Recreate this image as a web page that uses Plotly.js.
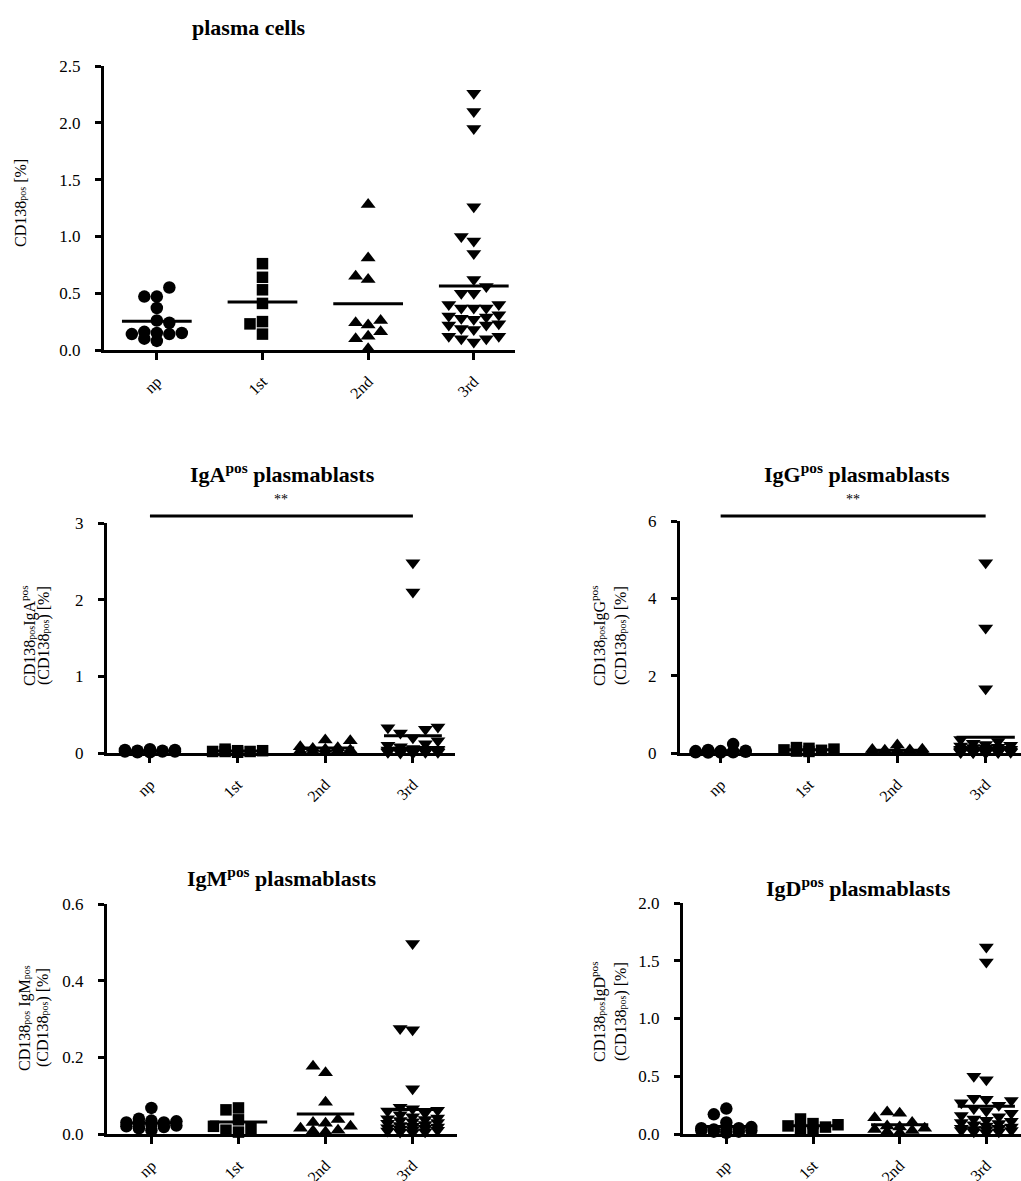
<!DOCTYPE html>
<html><head><meta charset="utf-8">
<script src="https://cdn.plot.ly/plotly-3.0.1.min.js"></script>
<style>body{margin:0;background:#fff}#chart{width:1021px;height:1181px}</style>
</head><body><div id="chart"></div>
<script>
// ---------- DATA ----------
const groups = ['np', '1st', '2nd', '3rd'];

const SUBPOS = '<span style="font-size:10px">pos</span>';
const panelTitles = ['plasma cells', 'IgA<sup>pos</sup> plasmablasts', 'IgG<sup>pos</sup> plasmablasts',
                     'IgM<sup>pos</sup> plasmablasts', 'IgD<sup>pos</sup> plasmablasts'];
const yTitles = [
  ['CD138' + SUBPOS + ' [%]'],
  ['CD138' + SUBPOS + 'IgA<sup>pos</sup>', '(CD138' + SUBPOS + ') [%]'],
  ['CD138' + SUBPOS + 'IgG<sup>pos</sup>', '(CD138' + SUBPOS + ') [%]'],
  ['CD138' + SUBPOS + ' IgM' + SUBPOS, '(CD138' + SUBPOS + ') [%]'],
  ['CD138' + SUBPOS + 'IgD<sup>pos</sup>', '(CD138' + SUBPOS + ') [%]']
];
// significance comparisons: [group a, group b, label] (null = none)
const sigPairs = [null, [0, 3, '**'], [0, 3, '**'], null, null];

// plasma cells
const pc_np  = [0.55, 0.47, 0.47, 0.37, 0.26, 0.24, 0.15, 0.14, 0.16, 0.15, 0.14, 0.08, 0.10];
const pc_1st = [0.76, 0.64, 0.53, 0.41, 0.25, 0.23, 0.14];
const pc_2nd = [1.28, 0.81, 0.65, 0.62, 0.26, 0.24, 0.22, 0.16, 0.12, 0.10, 0.01];
const pc_3rd = [2.26, 2.10, 1.95, 1.26, 1.00, 0.96, 0.85, 0.62, 0.56, 0.50, 0.50, 0.40, 0.37, 0.37, 0.37, 0.40,
                0.30, 0.31, 0.28, 0.27, 0.29, 0.19, 0.22, 0.22, 0.23, 0.18, 0.12, 0.12, 0.07, 0.10, 0.10];
// IgA
const iga_np  = [0.04, 0.04, 0.03, 0.03, 0.02, 0.02, 0.05, 0.02, 0.01, 0.03, 0.02, 0.01, 0.02];
const iga_1st = [0.05, 0.03, 0.02, 0.03, 0.02, 0.01, 0.02];
const iga_2nd = [0.17, 0.16, 0.08, 0.07, 0.06, 0.05, 0.04, 0.03, 0.03, 0.02, 0.01];
const iga_3rd = [2.48, 2.10, 0.34, 0.33, 0.31, 0.26, 0.20, 0.16, 0.12, 0.10, 0.08, 0.06, 0.05, 0.05, 0.04, 0.04,
                 0.04, 0.03, 0.03, 0.03, 0.03, 0.02, 0.02, 0.02, 0.02, 0.01, 0.01, 0.01, 0.01, 0.00, 0.00];
// IgG
const igg_np  = [0.23, 0.08, 0.06, 0.05, 0.05, 0.04, 0.04, 0.03, 0.03, 0.02, 0.02, 0.01, 0.01];
const igg_1st = [0.14, 0.12, 0.10, 0.08, 0.07, 0.05, 0.04];
const igg_2nd = [0.21, 0.10, 0.09, 0.08, 0.07, 0.06, 0.05, 0.04, 0.03, 0.02, 0.01];
const igg_3rd = [4.92, 3.23, 1.66, 0.35, 0.30, 0.25, 0.22, 0.20, 0.18, 0.15, 0.14, 0.12, 0.10, 0.10, 0.09,
                 0.08, 0.07, 0.06, 0.05, 0.05, 0.04, 0.04, 0.03, 0.03, 0.02, 0.02, 0.02, 0.01, 0.01, 0.01, 0.00];
// IgM
const igm_np  = [0.068, 0.040, 0.035, 0.033, 0.030, 0.030, 0.028, 0.025, 0.022, 0.020, 0.018, 0.015, 0.010];
const igm_1st = [0.068, 0.063, 0.037, 0.020, 0.015, 0.010, 0.005];
const igm_2nd = [0.177, 0.160, 0.083, 0.038, 0.030, 0.028, 0.020, 0.015, 0.010, 0.008, 0.005];
const igm_3rd = [0.497, 0.275, 0.272, 0.118, 0.070, 0.066, 0.062, 0.060, 0.055, 0.050, 0.045, 0.042, 0.040,
                 0.038, 0.035, 0.032, 0.030, 0.028, 0.025, 0.022, 0.020, 0.018, 0.016, 0.015, 0.013, 0.012,
                 0.010, 0.008, 0.006, 0.005, 0.004];
// IgD
const igd_np  = [0.22, 0.17, 0.10, 0.06, 0.05, 0.05, 0.04, 0.04, 0.03, 0.03, 0.02, 0.02, 0.01];
const igd_1st = [0.13, 0.09, 0.08, 0.07, 0.06, 0.04, 0.03];
const igd_2nd = [0.19, 0.18, 0.14, 0.10, 0.07, 0.06, 0.05, 0.04, 0.03, 0.02, 0.01];
const igd_3rd = [1.62, 1.49, 0.50, 0.47, 0.31, 0.30, 0.29, 0.27, 0.25, 0.22, 0.20, 0.18, 0.16, 0.15, 0.13,
                 0.12, 0.11, 0.10, 0.09, 0.08, 0.07, 0.06, 0.05, 0.05, 0.04, 0.04, 0.03, 0.03, 0.02, 0.02, 0.01];

const panelData = [
  [pc_np, pc_1st, pc_2nd, pc_3rd],
  [iga_np, iga_1st, iga_2nd, iga_3rd],
  [igg_np, igg_1st, igg_2nd, igg_3rd],
  [igm_np, igm_1st, igm_2nd, igm_3rd],
  [igd_np, igd_1st, igd_2nd, igd_3rd]
];

// ---------- LAYOUT / STYLE ----------
const W = 1021, H = 1181;
const FONT = 'Liberation Serif, Times New Roman, serif';
const symbols = ['circle', 'square', 'triangle-up', 'triangle-down'];
const msize = [12.5, 11.5, 13, 13];

const panels = [
  {xpx: [104, 515], ypx: [66, 350],  xr: [-0.50, 3.39], yr: [0, 2.5], dtick: 0.5, fmt: '.1f',
   tpos: [248, 27],  ytpos: [[20, 203]]},
  {xpx: [107, 455], ypx: [523, 753], xr: [-0.49, 3.48], yr: [0, 3],   dtick: 1,   fmt: 'd',
   tpos: [282, 473], ytpos: [[28, 636], [44, 636]], sigY: 516, sigTxtY: 499},
  {xpx: [680, 1021], ypx: [521, 753], xr: [-0.46, 3.40], yr: [0, 6],  dtick: 2,   fmt: 'd',
   tpos: [857, 473], ytpos: [[598, 636], [621, 636]], sigY: 516, sigTxtY: 499},
  {xpx: [107, 457], ypx: [904, 1134], xr: [-0.51, 3.51], yr: [0, 0.6], dtick: 0.2, fmt: '.1f',
   tpos: [282, 877], ytpos: [[25, 1018], [43, 1018]]},
  {xpx: [683, 1021], ypx: [903, 1134], xr: [-0.50, 3.40], yr: [0, 2.0], dtick: 0.5, fmt: '.1f',
   tpos: [858, 887], ytpos: [[598, 1012], [621, 1012]]}
];

// simple beeswarm (pixel space), capped at 5 columns
function swarm(vals, pxY, pxX, colPx, D) {
  const order = vals.map((v, i) => i).sort((a, b) => vals[a] - vals[b]);
  const placed = [];
  const off = new Array(vals.length).fill(0);
  const cands = [0, -1, 1, -2, 2];
  for (const i of order) {
    const y = vals[i] * pxY;
    let best = 0, bestD = -1;
    for (const k of cands) {
      const x = k * colPx;
      let md = Infinity;
      for (const p of placed) { const d = Math.hypot(p[0] - x, p[1] - y); if (d < md) md = d; }
      if (md >= D) { best = k; bestD = md; break; }
      if (md > bestD) { bestD = md; best = k; }
    }
    placed.push([best * colPx, y]);
    off[i] = best * colPx / pxX;
  }
  return off;
}
const mean = a => a.reduce((s, v) => s + v, 0) / a.length;

const traces = [];
const layout = {
  width: W, height: H, margin: {l: 0, r: 0, t: 0, b: 0},
  paper_bgcolor: '#fff', plot_bgcolor: '#fff', showlegend: false,
  annotations: [], shapes: []
};

panels.forEach((p, pi) => {
  const n = pi === 0 ? '' : String(pi + 1);
  const xa = 'x' + n, ya = 'y' + n;
  const plotW = p.xpx[1] - p.xpx[0], plotH = p.ypx[1] - p.ypx[0];
  const pxX = plotW / (p.xr[1] - p.xr[0]);
  const pxY = plotH / (p.yr[1] - p.yr[0]);

  const mx = [], my = [];
  panelData[pi].forEach((vals, gi) => {
    const off = swarm(vals, pxY, pxX, 12.5, 11);
    traces.push({
      type: 'scatter', mode: 'markers', xaxis: xa, yaxis: ya, cliponaxis: false,
      x: vals.map((v, i) => gi + off[i]), y: vals,
      marker: {symbol: symbols[gi], size: msize[gi], color: '#000', line: {width: 0}},
      hoverinfo: 'y'
    });
    const m = mean(vals);
    mx.push(gi - 0.33, gi + 0.33, null);
    my.push(m, m, null);
  });
  traces.push({type: 'scatter', mode: 'lines', xaxis: xa, yaxis: ya, cliponaxis: false,
               x: mx, y: my, line: {color: '#000', width: 3}, hoverinfo: 'skip'});

  layout['xaxis' + n] = {
    domain: [p.xpx[0] / W, p.xpx[1] / W], range: p.xr, anchor: ya,
    tickmode: 'array', tickvals: [0, 1, 2, 3], ticktext: groups, tickangle: -45,
    showline: true, linewidth: 3, linecolor: '#000', ticks: 'outside', ticklen: 7, tickwidth: 3,
    tickcolor: '#000', showgrid: false, zeroline: false, fixedrange: true,
    ticklabelstandoff: 6, tickfont: {family: FONT, size: 16, color: '#000'}
  };
  layout['yaxis' + n] = {
    domain: [1 - p.ypx[1] / H, 1 - p.ypx[0] / H], range: p.yr, anchor: xa,
    tick0: 0, dtick: p.dtick, tickformat: p.fmt,
    showline: true, linewidth: 3, linecolor: '#000', ticks: 'outside', ticklen: 6, tickwidth: 3,
    tickcolor: '#000', showgrid: false, zeroline: false, fixedrange: true,
    ticklabelstandoff: 11, tickfont: {family: FONT, size: 17, color: '#000'}
  };

  layout.annotations.push({
    xref: 'paper', yref: 'paper', x: p.tpos[0] / W, y: 1 - p.tpos[1] / H,
    xanchor: 'center', yanchor: 'middle', showarrow: false,
    text: '<b>' + panelTitles[pi] + '</b>', font: {family: FONT, size: 22, color: '#000'}
  });
  yTitles[pi].forEach((t, li) => {
    layout.annotations.push({
      xref: 'paper', yref: 'paper', x: p.ytpos[li][0] / W, y: 1 - p.ytpos[li][1] / H,
      xanchor: 'center', yanchor: 'middle', showarrow: false, textangle: -90,
      text: t, font: {family: FONT, size: 16, color: '#000'}
    });
  });

  const sig = sigPairs[pi];
  if (sig) {
    layout.shapes.push({type: 'line', xref: xa, yref: 'paper', x0: sig[0], x1: sig[1],
      y0: 1 - p.sigY / H, y1: 1 - p.sigY / H, line: {color: '#000', width: 3}});
    layout.annotations.push({xref: xa, yref: 'paper', x: (sig[0] + sig[1]) / 2, y: 1 - p.sigTxtY / H,
      xanchor: 'center', yanchor: 'middle', showarrow: false, text: sig[2],
      font: {family: FONT, size: 14, color: '#000'}});
  }
});

Plotly.newPlot('chart', traces, layout, {displayModeBar: false, staticPlot: true});
</script>
</body></html>
